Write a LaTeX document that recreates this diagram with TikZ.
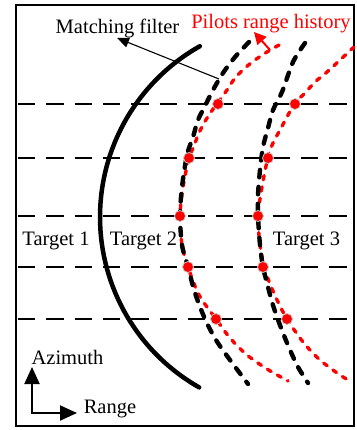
\documentclass[tikz,border=0pt]{standalone}
\usepackage{fontspec}
\setmainfont{Liberation Serif}
\usetikzlibrary{arrows.meta}
\begin{document}
\begin{tikzpicture}[x=1pt,y=-1pt,
  lbl/.style={inner sep=0pt, anchor=base, font=\fontsize{20.5}{24}\selectfont},
  hline/.style={line width=2.2pt, dash pattern=on 17.3pt off 11pt},
  bdash/.style={line width=4.4pt, line cap=round, dash pattern=on 7.5pt off 9.5pt},
  rdot/.style={red, line width=3.4pt, line cap=round, dash pattern=on 4.3pt off 7.2pt},
  pdot/.style={circle, fill=red, draw=gray!45, line width=0.8pt, minimum size=11pt, inner sep=0pt},
  axis/.style={line width=2pt, line join=miter},
]
\useasboundingbox (0,0) rectangle (356,430);
\draw[line width=2pt] (16,5) rectangle (354,426);

% horizontal dashed lines
\foreach \yy/\nm in {104/a,158/b,216/c,267/d,319/e}{
  \coordinate (L\nm) at (18,\yy);
  \coordinate (R\nm) at (350,\yy);
  \draw[hline] (L\nm) -- (R\nm);
}

% matching filter arc
\draw[line width=4.5pt, line cap=round] plot[domain=119.4:240.4, samples=80] ({296+196*cos(\x)},{217-196*sin(\x)});

% red pilot range histories
\draw[rdot] plot[smooth, tension=0.5] coordinates {(279,45) (267,52) (255,60) (245,68) (235,78) (227,90) (219,101) (211,112) (204,123) (198,135) (194,146) (189,158) (183,187) (180,216) (182,245) (188,267) (199,295) (216,319) (230,338) (247,355) (267,369) (288,381)};
\draw[rdot] plot[smooth, tension=0.5] coordinates {(354,47) (340,60) (327,72) (315,82) (305,93) (295,103) (287,117) (280,130) (273,143) (268,157) (262,187) (258,216) (260,245) (264,267) (270,284) (278,302) (287,319) (303,342) (320,360) (340,375) (350,381)};

% black dashed range histories
\draw[bdash] plot[smooth, tension=0.5] coordinates {(249,42) (235,57) (223,73) (213,90) (205,106) (198,120) (193,137) (187,155) (182,187) (180,216) (182,245) (188,267) (195,293) (205,319) (216,340) (230,360) (248,384)};
\draw[bdash] plot[smooth, tension=0.5] coordinates {(305,43) (293,62) (282,92) (273,110) (268,128) (263,147) (260,170) (258,195) (258,216) (260,245) (263,267) (267,283) (272,302) (277,317) (283,333) (290,350) (298,367) (308,383)};

% pilot points
\foreach \px/\py/\nm in {218/104/p1,189/158/p2,180/216/p3,188/267/p4,216/319/p5,295/104/q1,268/158/q2,258/216/q3,263/267/q4,287/319/q5}{
  \node[pdot] (\nm) at (\px,\py) {};
}

% labels
\node[lbl] (mf) at (117.5,34) {Matching filter};
\node[lbl, text=red] (prh) at (271,29) {Pilots range history};
\node[lbl] (t1) at (56,245) {Target 1};
\node[lbl] (t2) at (143.5,245) {Target 2};
\node[lbl] (t3) at (306.5,245) {Target 3};
\node[lbl] (az) at (67.5,364) {Azimuth};
\node[lbl] (rg) at (110,413) {Range};

% pointer arrows
\coordinate (mfs) at (219,79);
\coordinate (mft) at (117,38);
\draw[line width=1.1pt, -{Triangle[length=12pt, width=10pt]}] (mfs) -- (mft);
\coordinate (prs) at (270,50);
\coordinate (prt) at (254,32);
\draw[red, line width=2pt, -{Triangle[length=12pt, width=12pt]}] (prs) -- (prt);

% axes
\coordinate (o) at (32,413);
\coordinate (azt) at (32,367);
\coordinate (rgt) at (77,413);
\draw[axis, {Triangle[length=17pt, width=15pt]}-{Triangle[length=17pt, width=15pt]}] (azt) -- (o) -- (rgt);
\end{tikzpicture}
\end{document}
